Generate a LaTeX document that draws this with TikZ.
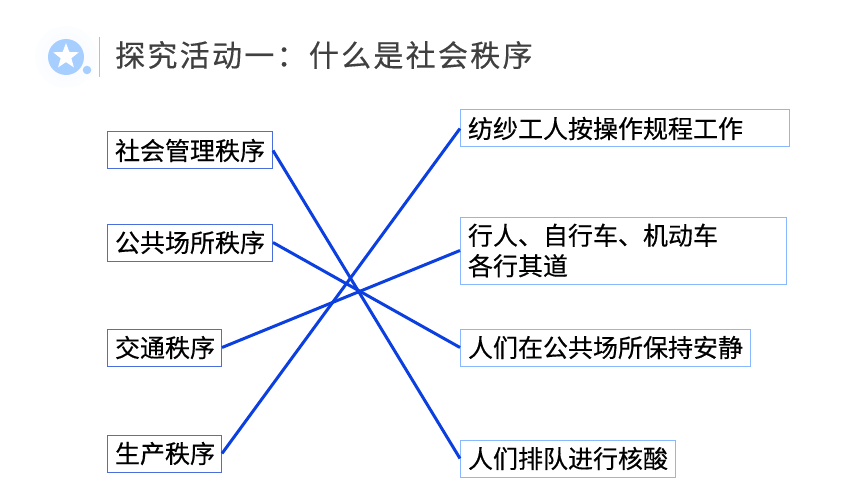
\documentclass[tikz,border=0pt]{standalone}
\usepackage{fontspec}
\setmainfont[FakeBold=0.35]{Noto Sans CJK SC}
\usepackage{tikz}
\usetikzlibrary{shapes.geometric}
\definecolor{iconblue}{HTML}{A6CEFF}
\definecolor{leftedge}{HTML}{4A6FDC}
\definecolor{rightedge}{HTML}{8AB8FF}
\definecolor{linkblue}{HTML}{0B3FE0}
\definecolor{titlegray}{HTML}{404040}
\tikzset{
  itembox/.style={draw, line width=1pt, anchor=west, inner xsep=7.5pt, inner ysep=0pt,
    align=left, text=black, font=\fontsize{25}{30.5}\selectfont},
  leftbox/.style={itembox, draw=leftedge, minimum height=37pt},
  rightbox/.style={itembox, draw=rightedge, minimum height=37pt},
  link/.style={linkblue, line width=3pt}
}

\begin{document}
\begin{tikzpicture}[x=1pt,y=-1pt]
\useasboundingbox (0,0) rectangle (860,484);
% heading
\fill[iconblue!3] (66,57) circle [radius=31];
\fill[iconblue!6] (66,57) circle [radius=24];
\node [circle, fill=iconblue, minimum size=36pt, inner sep=0pt] (badge) at (66,57) {};
\node [star, star points=5, star point ratio=2.4, fill=white, minimum size=27pt, inner sep=0pt] (badgestar) at (66,56.5) {};
\node [circle, fill=iconblue, minimum size=8.5pt, inner sep=0pt] (badgedot) at (87,70) {};
\draw [black!25, line width=0.8pt] (99,37) -- (99,77);
\node [anchor=west, inner sep=0pt, text=titlegray, font=\fontsize{30}{36}\selectfont] (title) at (115,55)
  {\addfontfeature{LetterSpace=7.6}探究活动一：什么是社会秩序};
% left column
\node [leftbox, text width=150pt] (social) at (107,150.5) {社会管理秩序};
\node [leftbox, text width=150pt] (public) at (107,242.5) {公共场所秩序};
\node [leftbox, text width=99pt] (traffic) at (107,347.5) {交通秩序};
\node [leftbox, text width=99pt] (production) at (107,453.5) {生产秩序};
% right column
\node [rightbox, text width=314pt] (spinning) at (460,128.5) {纺纱工人按操作规程工作};
\node [rightbox, text width=311pt, minimum height=67pt] (pedestrian) at (460,250.5) {行人、自行车、机动车\\各行其道};
\node [rightbox, text width=275pt] (quiet) at (460,347.5) {人们在公共场所保持安静};
\node [rightbox, text width=200pt] (queue) at (460,458.5) {人们排队进行核酸};
% links
\draw [link] (social.east) -- (queue.west);
\draw [link] (public.east) -- (quiet.west);
\draw [link] (traffic.east) -- (pedestrian.west);
\draw [link] (production.east) -- (spinning.west);
\end{tikzpicture}
\end{document}
